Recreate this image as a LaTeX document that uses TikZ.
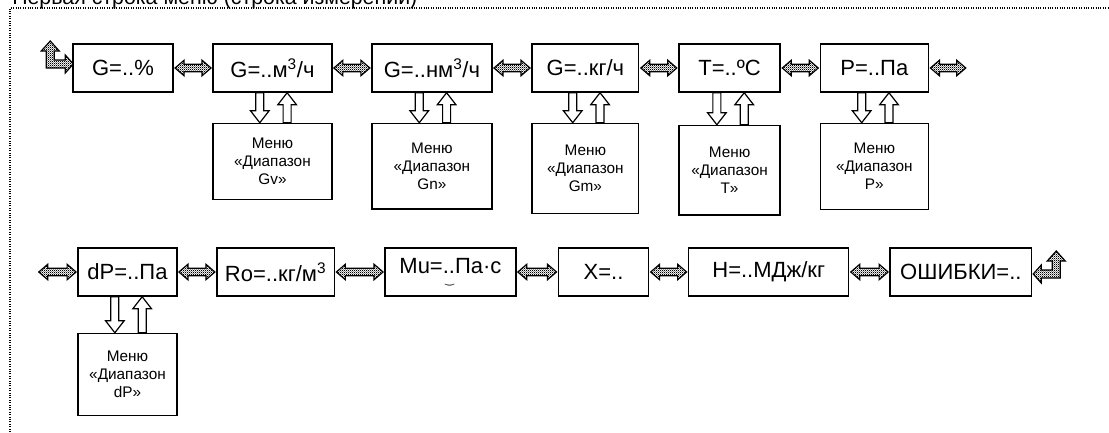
\documentclass[tikz,border=0pt]{standalone}
\usepackage{fontspec}
\setmainfont{Liberation Sans}
\newfontfamily\dejavu{DejaVu Sans}
\usetikzlibrary{positioning,calc,patterns}
\pgfdeclarepatternformonly{finechecker}{\pgfpointorigin}{\pgfqpoint{1.6pt}{1.6pt}}{\pgfqpoint{1.6pt}{1.6pt}}{%
  \pgfpathrectangle{\pgfpointorigin}{\pgfqpoint{0.8pt}{0.8pt}}%
  \pgfpathrectangle{\pgfqpoint{0.8pt}{0.8pt}}{\pgfqpoint{0.8pt}{0.8pt}}%
  \pgfusepath{fill}}
\tikzset{
  blk/.style={draw,rectangle,line width=1.1pt,inner sep=1pt,align=center},
  valblk/.style={blk,minimum height=36pt,font=\fontsize{16.5}{19}\selectfont},
  menublk/.style={blk,font=\fontsize{11.5}{13.5}\selectfont},
  chkarr/.style={draw,line width=0.9pt,line join=miter,preaction={fill=white},pattern=finechecker},
  hollarr/.style={draw,line width=0.9pt,line join=miter,fill=white},
  frame/.style={densely dotted,line width=0.8pt}
}
% double block arrow between two points (same height as the first one)
\newcommand{\dblarr}[2]{%
  \path[chkarr] let \p1=#1, \p2=#2 in
    (\x1+1pt,\y1) -- ++(6.75pt,5.8pt) -- ++(0,-3pt) -- (\x2-7.75pt,\y1+2.8pt) -- ++(0,3pt)
    -- (\x2-1pt,\y1) -- ++(-6.75pt,-5.8pt) -- ++(0,3pt) -- (\x1+7.75pt,\y1-2.8pt) -- ++(0,-3pt) -- cycle;}
% block arrow down from value box to menu box
\newcommand{\dnarr}[3]{%
  \path[hollarr] let \p1=($#1+(#3,0pt)$), \p2=($#2+(#3,0pt)$) in
    (\x1-3pt,\y1) -- (\x1+3pt,\y1) -- (\x1+3pt,\y2+9pt) -- (\x1+7pt,\y2+9pt) -- (\x1,\y2)
    -- (\x1-7pt,\y2+9pt) -- (\x1-3pt,\y2+9pt) -- cycle;}
% block arrow up from menu box to value box
\newcommand{\uparr}[3]{%
  \path[hollarr] let \p1=($#1+(#3,0pt)$), \p2=($#2+(#3,0pt)$) in
    (\x2-3pt,\y2) -- (\x2+3pt,\y2) -- (\x2+3pt,\y1-9pt) -- (\x2+7pt,\y1-9pt) -- (\x2,\y1)
    -- (\x2-7pt,\y1-9pt) -- (\x2-3pt,\y1-9pt) -- cycle;}

\begin{document}
\begin{tikzpicture}[x=0.75pt,y=-0.75pt]
  \useasboundingbox (0,0) rectangle (1109,432);
  \clip (0,0) rectangle (1109,432);
  \node[anchor=base west,inner sep=0,font=\fontsize{16}{19}\selectfont] (title) at (12,4) {Первая строка меню (строка измерений)};
  \draw[frame] (10,432) -- (10,8) -- (1109,8);

  % first row
  \node[valblk,minimum width=75pt] (gpct) at (123,68) {G=..\%};
  \node[valblk,minimum width=89pt,right=29pt of gpct] (gv) {G=..м\textsuperscript{3}/ч};
  \node[valblk,minimum width=90pt,right=29pt of gv] (gn) {G=..нм\textsuperscript{3}/ч};
  \node[valblk,minimum width=80pt,right=29pt of gn] (gm) {G=..кг/ч};
  \node[valblk,minimum width=76pt,right=29pt of gm] (temp) {T=..ºC};
  \node[valblk,minimum width=81pt,right=29pt of temp] (pres) {P=..Па};
  \coordinate (pout) at ($(pres.east)+(38,0)$);

  \node[menublk,minimum width=89pt,minimum height=57pt,below=22.5pt of gv] (mgv) {Меню\\«Диапазон\\Gv»};
  \node[menublk,minimum width=90pt,minimum height=64pt,below=22.5pt of gn] (mgn) {Меню\\«Диапазон\\Gn»};
  \node[menublk,minimum width=80pt,minimum height=67.5pt,below=22.5pt of gm] (mgm) {Меню\\«Диапазон\\Gm»};
  \node[menublk,minimum width=76pt,minimum height=67pt,below=24pt of temp] (mtemp) {Меню\\«Диапазон\\T»};
  \node[menublk,minimum width=81pt,minimum height=64.5pt,below=22.5pt of pres] (mpres) {Меню\\«Диапазон\\P»};

  % second row
  \node[valblk,minimum width=74pt] (dp) at (127.5,272) {dP=..Па};
  \node[valblk,minimum width=88pt,right=29pt of dp] (ro) {Ro=..кг/м\textsuperscript{3}};
  \node[valblk,minimum width=98pt,right=37pt of ro] (mu) {Mu=\rlap{\hspace{0.12em}\raisebox{-0.45em}{\dejavu\fontsize{8}{8}\selectfont ‿}}..Па·с};
  \node[valblk,minimum width=67.5pt,right=31pt of mu] (xx) {X=..};
  \node[valblk,minimum width=120pt,right=29pt of xx] (hh) {H=..МДж/кг};
  \node[valblk,minimum width=106pt,right=30pt of hh] (err) {ОШИБКИ=..};
  \coordinate (dpin) at ($(dp.west)+(-40,0)$);

  \node[menublk,minimum width=74pt,minimum height=61.5pt,below=27pt of dp] (mdp) {Меню\\«Диапазон\\dP»};

  % transitions
  \dblarr{(gpct.east)}{(gv.west)}
  \dblarr{(gv.east)}{(gn.west)}
  \dblarr{(gn.east)}{(gm.west)}
  \dblarr{(gm.east)}{(temp.west)}
  \dblarr{(temp.east)}{(pres.west)}
  \dblarr{(pres.east)}{(pout)}
  \dblarr{(dpin)}{(dp.west)}
  \dblarr{(dp.east)}{(ro.west)}
  \dblarr{(ro.east)}{(mu.west)}
  \dblarr{(mu.east)}{(xx.west)}
  \dblarr{(xx.east)}{(hh.west)}
  \dblarr{(hh.east)}{(err.west)}

  \foreach \v in {gv,gn,gm,temp,pres,dp}{
    \dnarr{(\v.south)}{(m\v.north)}{-9.5pt}
    \uparr{(\v.south)}{(m\v.north)}{11pt}
  }

  % entry and exit of the menu
  \path[chkarr] ($(gpct.west)+(1,-4)$) -- ++(-8,9) -- ++(0,-5) -- ++(-19,0) -- ++(0,-17) -- ++(-5,0)
    -- ++(9,-10) -- ++(9,10) -- ++(-5,0) -- ++(0,9) -- ++(11,0) -- ++(0,-5) -- cycle;
  \path[chkarr] ($(err.east)+(1,2)$) -- ++(8,9) -- ++(0,-5) -- ++(19,0) -- ++(0,-17) -- ++(5,0)
    -- ++(-9,-10) -- ++(-9,10) -- ++(5,0) -- ++(0,9) -- ++(-11,0) -- ++(0,-5) -- cycle;
\end{tikzpicture}
\end{document}
